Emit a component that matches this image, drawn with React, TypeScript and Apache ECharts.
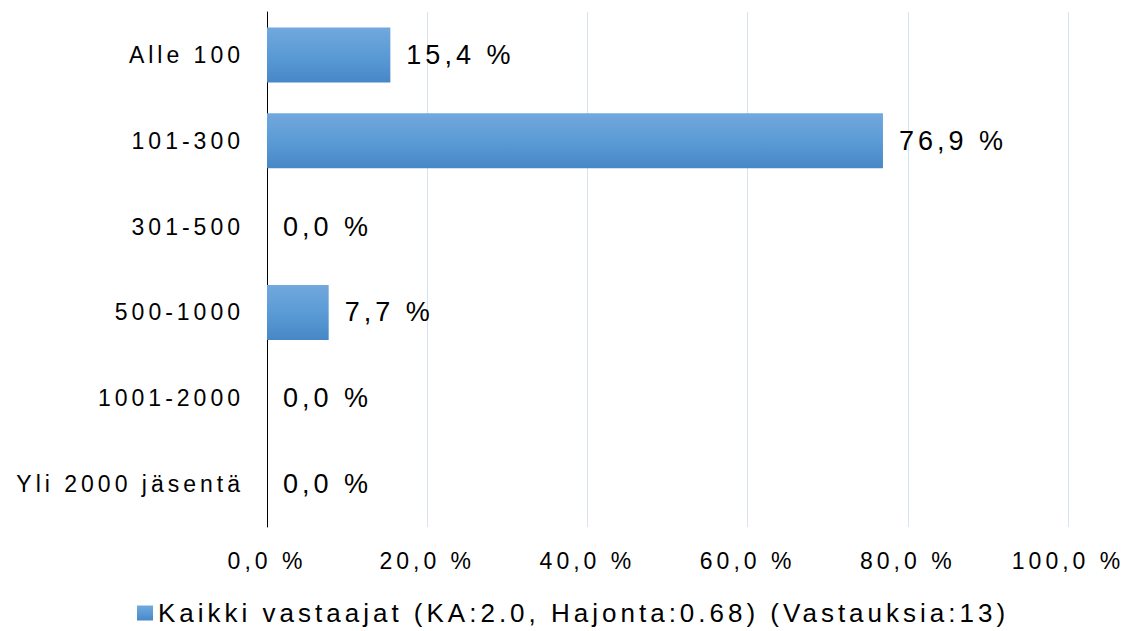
import React, { useEffect, useRef } from "react";
import * as echarts from "echarts";

const categories = ["Alle 100", "101-300", "301-500", "500-1000", "1001-2000", "Yli 2000 jäsentä"];
const values = [15.4, 76.9, 0.0, 7.7, 0.0, 0.0];
const seriesName = "Kaikki vastaajat (KA:2.0, Hajonta:0.68) (Vastauksia:13)";
const xMin = 0;
const xMax = 100;
const xInterval = 20;

const fmt = (v: number) => `${v.toFixed(1).replace(".", ",")} %`;
const FONT = "'Liberation Sans', Arial, sans-serif";

export default function App() {
  const ref = useRef<HTMLDivElement>(null);
  useEffect(() => {
    if (!ref.current) return;
    const chart = echarts.init(ref.current, undefined, { renderer: "svg" });
    const grad = new echarts.graphic.LinearGradient(0, 0, 0, 1, [
      { offset: 0, color: "#72a8dd" },
      { offset: 0.5, color: "#5b9bd5" },
      { offset: 1, color: "#4887c7" },
    ]);
    chart.setOption({
      animation: false,
      backgroundColor: "#ffffff",
      textStyle: { fontFamily: FONT },
      grid: { left: 267, right: 63, top: 12, bottom: 104, containLabel: false },
      legend: {
        left: 132,
        top: 595,
        itemWidth: 16,
        itemHeight: 15,
        itemGap: 10,
        icon: "rect",
        textStyle: { fontSize: 26, color: "#000", fontFamily: FONT },
        data: [{ name: seriesName, itemStyle: { color: grad } }],
      },
      xAxis: {
        type: "value",
        min: xMin,
        max: xMax,
        interval: xInterval,
        axisLine: { show: false },
        axisTick: { show: false },
        splitLine: { show: true, lineStyle: { color: "#d9e3ef", width: 1 } },
        axisLabel: {
          formatter: (v: number) => fmt(v),
          fontSize: 23,
          color: "#000",
          margin: 22,
          fontFamily: FONT,
        },
      },
      yAxis: {
        type: "category",
        inverse: true,
        data: categories,
        axisLine: { show: true, lineStyle: { color: "#000", width: 1 } },
        axisTick: { show: false },
        axisLabel: { fontSize: 23, color: "#000", margin: 23, fontFamily: FONT },
      },
      series: [
        {
          name: seriesName,
          type: "bar",
          data: values,
          barCategoryGap: "36%",
          itemStyle: { color: grad },
          label: {
            show: true,
            position: "right",
            distance: 16,
            fontSize: 27,
            color: "#000",
            fontFamily: FONT,
            formatter: (p: any) => fmt(p.value),
          },
        },
      ],
    });
    return () => chart.dispose();
  }, []);
  return (
    <div
      ref={ref}
      style={{ position: "fixed", left: 0, top: 0, width: 1131, height: 631, letterSpacing: "4px" }}
    />
  );
}
